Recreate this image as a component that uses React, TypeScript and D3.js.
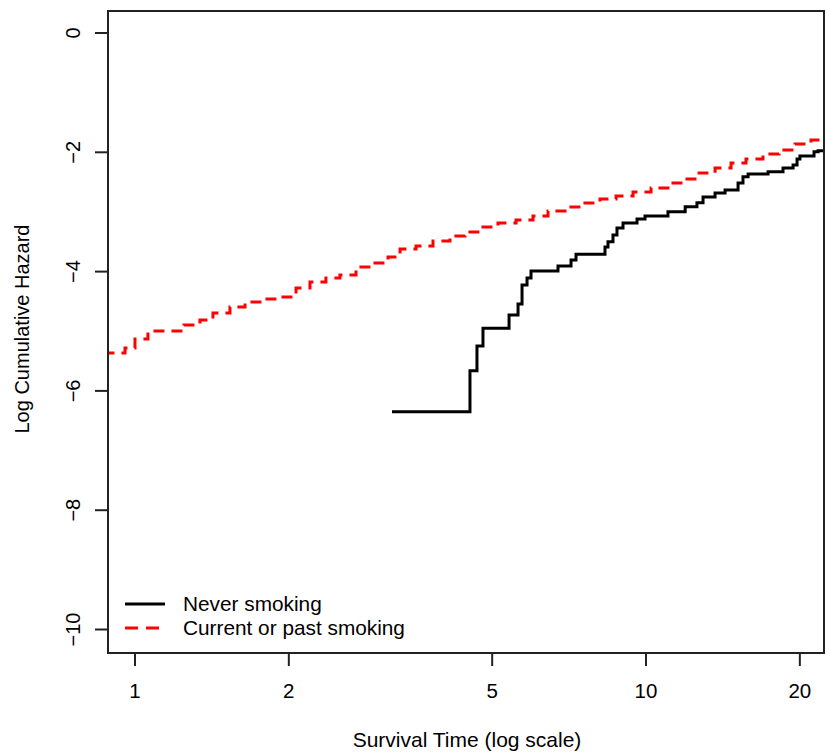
import React from "react";
import * as d3 from "d3";

// Current or past smoking: step times (years) and log cumulative hazard
const smokerTime = [0.8, 0.956, 1.0, 1.06, 1.247, 1.34, 1.421, 1.534, 1.642, 1.772, 1.922, 2.066, 2.2, 2.364, 2.518, 2.707, 2.91, 3.127, 3.301, 3.548, 3.83, 4.134, 4.423, 4.756, 5.133, 5.568, 6.01, 6.431, 6.943, 7.463, 8.128, 8.737, 9.432, 10.23, 11.04, 11.93, 12.7, 13.65, 14.67, 15.69, 16.94, 18.21, 19.57, 21.03, 23.0];
const smokerLogH = [-5.365, -5.281, -5.13, -4.996, -4.895, -4.811, -4.694, -4.593, -4.51, -4.459, -4.426, -4.275, -4.174, -4.107, -4.057, -3.923, -3.856, -3.755, -3.621, -3.571, -3.487, -3.403, -3.336, -3.252, -3.185, -3.135, -3.068, -2.984, -2.917, -2.85, -2.783, -2.733, -2.666, -2.599, -2.515, -2.448, -2.347, -2.263, -2.179, -2.112, -2.028, -1.961, -1.861, -1.794, -1.76];

// Never smoking
const neverTime = [3.184, 4.524, 4.669, 4.797, 5.395, 5.618, 5.72, 5.85, 5.956, 6.726, 7.133, 7.295, 8.313, 8.425, 8.617, 8.774, 9.016, 9.603, 9.955, 11.04, 11.93, 12.58, 12.93, 13.65, 14.28, 15.14, 15.48, 15.84, 17.33, 18.54, 19.4, 19.75, 20.01, 21.32, 21.71, 23.0];
const neverLogH = [-6.349, -5.661, -5.247, -4.951, -4.728, -4.543, -4.225, -4.107, -3.99, -3.906, -3.806, -3.71, -3.588, -3.499, -3.386, -3.269, -3.185, -3.118, -3.068, -2.996, -2.912, -2.845, -2.749, -2.682, -2.632, -2.515, -2.409, -2.364, -2.325, -2.263, -2.213, -2.112, -2.062, -1.99, -1.973, -1.973];

const xTicks = [1, 2, 5, 10, 20];
const yTicks = [0, -2, -4, -6, -8, -10];
const legendLabels = ["Never smoking", "Current or past smoking"];

const W = 825;
const H = 755;
const plot = { left: 108, right: 824, top: 11, bottom: 653 };
const FONT = "'Liberation Sans', Arial, Helvetica, sans-serif";

export default function App() {
  const x = d3.scaleLog().domain([0.8855, 22.3]).range([plot.left, plot.right]);
  const y = d3.scaleLinear().domain([0.369, -10.394]).range([plot.top, plot.bottom]);

  const line = d3
    .line<[number, number]>()
    .x((d) => x(d[0]))
    .y((d) => y(d[1]))
    .curve(d3.curveStepAfter);

  const smoker = smokerTime.map((t, i) => [t, smokerLogH[i]] as [number, number]);
  const never = neverTime.map((t, i) => [t, neverLogH[i]] as [number, number]);

  return (
    <svg
      width={W}
      height={H}
      style={{ position: "absolute", left: 0, top: 0, background: "#fff" }}
      fontFamily={FONT}
    >
      <defs>
        <clipPath id="plotclip">
          <rect x={plot.left} y={plot.top} width={plot.right - plot.left} height={plot.bottom - plot.top} />
        </clipPath>
      </defs>

      <g clipPath="url(#plotclip)">
        <path d={line(smoker) || ""} fill="none" stroke="#ff0000" strokeWidth={3} strokeDasharray="11 7" />
        <path d={line(never) || ""} fill="none" stroke="#000" strokeWidth={3} />
      </g>

      {/* frame */}
      <rect
        x={plot.left}
        y={plot.top}
        width={plot.right - plot.left}
        height={plot.bottom - plot.top}
        fill="none"
        stroke="#222"
        strokeWidth={2}
      />

      {/* y axis */}
      {yTicks.map((v) => (
        <g key={"y" + v}>
          <line x1={plot.left - 13} x2={plot.left} y1={y(v)} y2={y(v)} stroke="#222" strokeWidth={2} />
          <text
            transform={`translate(80,${y(v)}) rotate(-90)`}
            textAnchor="middle"
            fontSize={20}
            fill="#000"
          >
            {v < 0 ? "\u2212" + Math.abs(v) : String(v)}
          </text>
        </g>
      ))}

      {/* x axis */}
      {xTicks.map((t) => (
        <g key={"x" + t}>
          <line x1={x(t)} x2={x(t)} y1={plot.bottom} y2={plot.bottom + 13} stroke="#222" strokeWidth={2} />
          <text x={x(t)} y={698} textAnchor="middle" fontSize={20.5} fill="#000">
            {t}
          </text>
        </g>
      ))}

      <text x={(plot.left + plot.right) / 2 + 1} y={747} textAnchor="middle" fontSize={21} fill="#000">
        Survival Time (log scale)
      </text>
      <text
        transform={`translate(29,${(plot.top + plot.bottom) / 2 - 3}) rotate(-90)`}
        textAnchor="middle"
        fontSize={20}
        fill="#000"
      >
        Log Cumulative Hazard
      </text>

      {/* legend */}
      <line x1={125} x2={165} y1={604} y2={604} stroke="#000" strokeWidth={3} />
      <line x1={125} x2={165} y1={628} y2={628} stroke="#ff0000" strokeWidth={3} strokeDasharray="13 8" />
      <text x={183} y={611} fontSize={20.8} fill="#000">
        {legendLabels[0]}
      </text>
      <text x={183} y={635} fontSize={20.8} fill="#000">
        {legendLabels[1]}
      </text>
    </svg>
  );
}
